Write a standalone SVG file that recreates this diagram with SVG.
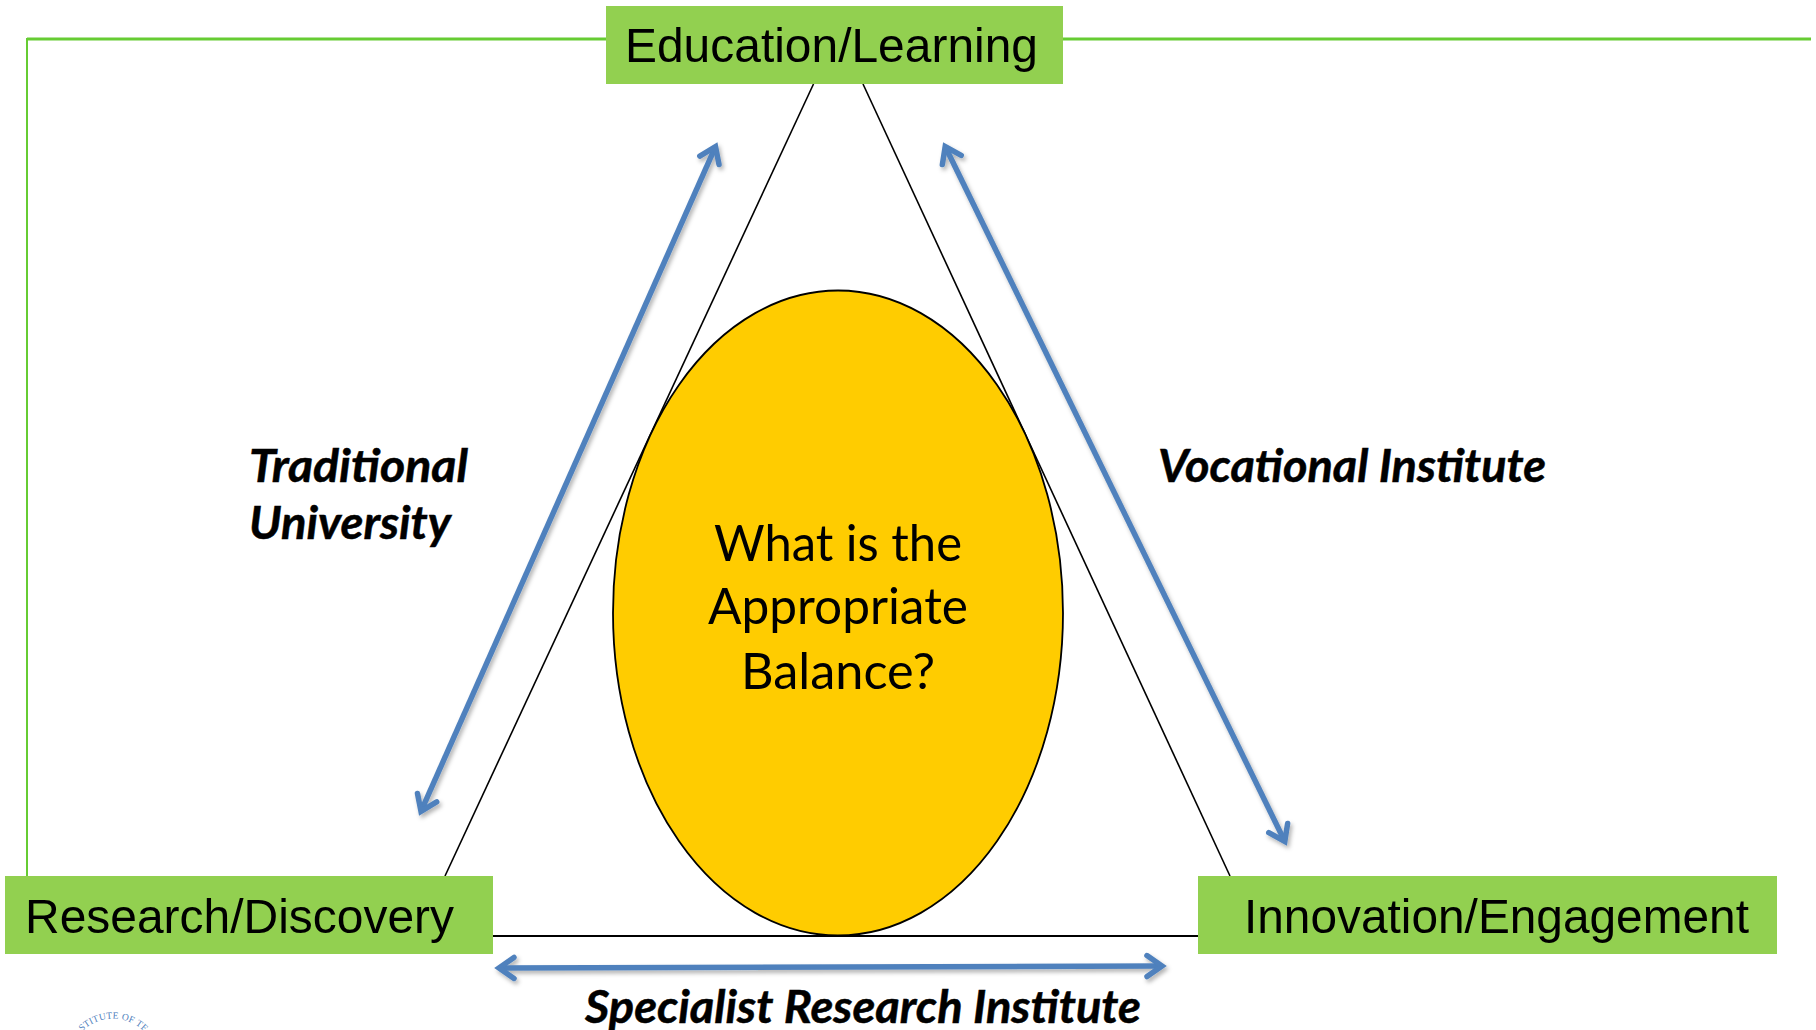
<svg xmlns="http://www.w3.org/2000/svg" width="1816" height="1030" viewBox="0 0 1816 1030">
  <style>
    .box { fill: #92D050; }
    .boxlabel { font-family: "Liberation Sans", Arial, sans-serif; font-size: 49px; fill: #000; }
    .italic { font-family: Lato, "Open Sans", sans-serif; font-size: 45px; font-weight: 700; font-style: italic; fill: #000; stroke: #000; stroke-width: 0.5; }
    .center { font-family: Lato, "Open Sans", sans-serif; font-size: 50px; fill: #000; }
    .frame { fill: none; stroke: #66CC33; stroke-linejoin: miter; }
    .tri { fill: none; stroke: #000; stroke-width: 1.6; }
    .arrow { fill: none; stroke: #4F81BD; stroke-width: 5.5; marker-start: url(#head); marker-end: url(#head); }
    .logo { font-family: "Liberation Serif", serif; font-size: 9.5px; fill: #4F81BD; letter-spacing: 0.2px; }
  </style>
  <defs>
    <marker id="head" markerUnits="userSpaceOnUse" markerWidth="40" markerHeight="40" refX="0" refY="0" viewBox="-24 -20 40 40" orient="auto-start-reverse" overflow="visible">
      <path d="M-15,-10.5 L0,0 L-15,10.5" fill="none" stroke="#4F81BD" stroke-width="5.5" stroke-linecap="round"/>
    </marker>
    <filter id="shadow" x="-5%" y="-5%" width="110%" height="110%">
      <feDropShadow dx="2" dy="3" stdDeviation="2" flood-color="#000" flood-opacity="0.3"/>
    </filter>
    <path id="logoArc" d="M78,1036 A44,44 0 0 1 148,1036"/>
  </defs>

  <g id="frame">
    <path class="frame" stroke-width="3" d="M27,39 H606"/>
    <path class="frame" stroke-width="3" d="M1063,39 H1811"/>
    <path class="frame" stroke-width="2" d="M27,38 V876"/>
  </g>

  <g id="triangle">
    <path class="tri" d="M445,876 L813.5,84"/>
    <path class="tri" d="M863,84 L1230,876"/>
    <path class="tri" style="stroke-width:2" d="M493,936 H1198"/>
  </g>

  <g id="node-balance">
    <ellipse cx="838" cy="613" rx="225" ry="322.5" fill="#FFCC00" stroke="#000" stroke-width="1.8"/>
    <text class="center" x="714" y="561" textLength="248" lengthAdjust="spacingAndGlyphs">What is the</text>
    <text class="center" x="708" y="624" textLength="260" lengthAdjust="spacingAndGlyphs">Appropriate</text>
    <text class="center" x="741" y="689" textLength="194" lengthAdjust="spacingAndGlyphs">Balance?</text>
  </g>

  <g id="node-education">
    <rect class="box" x="606" y="6" width="457" height="78"/>
    <text class="boxlabel" x="625" y="62" textLength="413" lengthAdjust="spacingAndGlyphs">Education/Learning</text>
  </g>
  <g id="node-research">
    <rect class="box" x="5" y="876" width="488" height="78"/>
    <text class="boxlabel" x="25" y="933" textLength="429" lengthAdjust="spacingAndGlyphs">Research/Discovery</text>
  </g>
  <g id="node-innovation">
    <rect class="box" x="1198" y="876" width="579" height="78"/>
    <text class="boxlabel" x="1244" y="933" textLength="505" lengthAdjust="spacingAndGlyphs">Innovation/Engagement</text>
  </g>

  <g id="connectors" filter="url(#shadow)">
    <line class="arrow" x1="421" y1="811.4" x2="715.5" y2="146.6"/>
    <line class="arrow" x1="945.2" y1="146.5" x2="1284.8" y2="841.5"/>
    <line class="arrow" x1="499" y1="968" x2="1162" y2="966"/>
  </g>

  <g id="labels">
    <text class="italic" x="249" y="482" textLength="219" lengthAdjust="spacingAndGlyphs">Traditional</text>
    <text class="italic" x="249" y="539" textLength="202" lengthAdjust="spacingAndGlyphs">University</text>
    <text class="italic" x="1158" y="482" textLength="388" lengthAdjust="spacingAndGlyphs">Vocational Institute</text>
    <text class="italic" x="585" y="1023" textLength="556" lengthAdjust="spacingAndGlyphs">Specialist Research Institute</text>
  </g>

  <g id="logo">
    <text class="logo"><textPath href="#logoArc" startOffset="6">STITUTE OF TE</textPath></text>
  </g>
</svg>
